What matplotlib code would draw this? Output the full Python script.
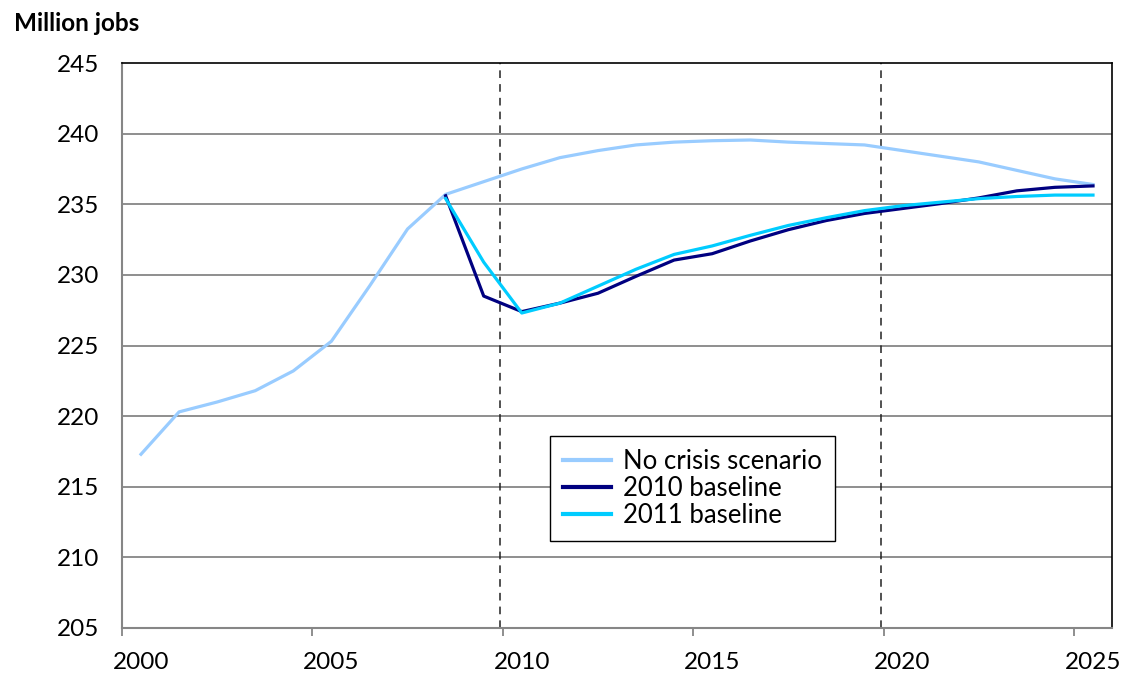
import matplotlib
matplotlib.use("Agg")
import matplotlib.pyplot as plt
import numpy as np

plt.rcParams['font.family'] = ['Lato', 'DejaVu Sans']

years = list(range(2000, 2026))
no_crisis = [217.3, 220.3, 221.0, 221.8, 223.2, 225.3, 229.2, 233.25, 235.7, 236.6,
             237.5, 238.3, 238.8, 239.2, 239.4, 239.5, 239.55, 239.4, 239.3, 239.2,
             238.8, 238.4, 238.0, 237.4, 236.8, 236.4]
base_2010_years = list(range(2008, 2026))
base_2010 = [235.6, 228.5, 227.4, 228.0, 228.7, 229.9, 231.05, 231.5, 232.4, 233.2,
             233.85, 234.35, 234.7, 235.05, 235.45, 235.95, 236.2, 236.3]
base_2011_years = list(range(2008, 2026))
base_2011 = [235.4, 230.9, 227.3, 228.0, 229.2, 230.4, 231.45, 232.05, 232.8, 233.5,
             234.05, 234.55, 234.9, 235.15, 235.4, 235.55, 235.65, 235.65]
marker_years = [2010, 2020]
y_ticks = list(range(205, 250, 5))
x_label_years = list(range(2000, 2026, 5))

fig = plt.figure(figsize=(11.26, 6.77), dpi=100)
ax = fig.add_axes([0.1083, 0.0724, 0.8793, 0.8345])

def pos(yrs):
    return np.asarray(yrs) - years[0]

ax.plot(pos(years), no_crisis, color='#99CCFF', lw=2.3, label='No crisis scenario', zorder=3)
ax.plot(pos(base_2010_years), base_2010, color='#000080', lw=2.3, label='2010 baseline', zorder=4)
ax.plot(pos(base_2011_years), base_2011, color='#00CCFF', lw=2.3, label='2011 baseline', zorder=5)

for yr in marker_years:
    ax.axvline(pos(yr) - 0.57, color='#222222', lw=1.1, ls=(0, (5, 4)), zorder=2)

ax.set_xlim(-0.5, len(years) - 0.5)
ax.set_ylim(y_ticks[0], y_ticks[-1])

# horizontal gridlines
for v in y_ticks[1:-1]:
    ax.axhline(v, color='#868686', lw=1.3, zorder=1)

ax.set_yticks(y_ticks)
ax.set_yticklabels([str(v) for v in y_ticks])
ax.tick_params(axis='y', length=0, pad=16, labelsize=17.5)

# category boundaries carry tick marks, labels sit on the categories
ax.set_xticks(pos(x_label_years) - 0.5)
ax.set_xticklabels([])
ax.tick_params(axis='x', which='major', length=6, width=1.3, color='#868686', direction='out')
ax.set_xticks(pos(x_label_years), minor=True)
ax.set_xticklabels([str(v) for v in x_label_years], minor=True)
ax.tick_params(axis='x', which='minor', length=0, pad=17, labelsize=17.5)

for side in ['left', 'bottom']:
    ax.spines[side].set_color('#868686')
    ax.spines[side].set_linewidth(1.5)
for side in ['top', 'right']:
    ax.spines[side].set_color('black')
    ax.spines[side].set_linewidth(1.2)

leg = ax.legend(loc='upper left', bbox_to_anchor=(0.432, 0.340), borderaxespad=0,
                fontsize=18.5, frameon=True, fancybox=False, handlelength=1.9,
                labelspacing=0.08, borderpad=0.5, handletextpad=0.45)
leg.get_frame().set_edgecolor('black')
leg.get_frame().set_linewidth(1.0)
leg.get_frame().set_alpha(1)
for h in leg.get_lines():
    h.set_linewidth(3)

fig.text(0.012, 0.982, 'Million jobs', fontsize=17.5, fontweight='bold', va='top', ha='left')

fig.savefig('out.png', dpi=100, facecolor='white')
